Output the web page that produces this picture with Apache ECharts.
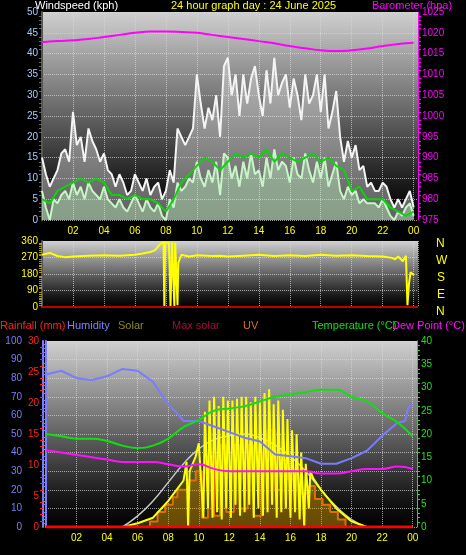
<!DOCTYPE html>
<html>
<head>
<meta charset="utf-8">
<script src="https://cdn.jsdelivr.net/npm/echarts@6/dist/echarts.min.js"></script>
<style>
  html, body { margin: 0; padding: 0; background: #000; }
  #chart { width: 466px; height: 555px; }
</style>
</head>
<body>
<div id="chart"></div>
<script>
// 15 minute steps 0..24h
const windHours = [];
for (let i = 0; i <= 96; i++) windHours.push(i / 4);
const gust = [15,11,8,10, 12,16,17,14, 26,18,20,14, 22,19,17,14, 16,12,11,8, 11,9,6,7,
  11,9,7,10, 6,8,9,5, 7,12,9,22, 20,18,20,22, 35,28,22,27, 24,30,20,37, 39,30,35,25,
  35,28,34,37, 30,25,36,28, 39,30,33,35, 27,34,30,24, 35,28,30,35, 26,35,22,26,
  31,20,14,19, 15,18,12,13, 8,9,7,7, 9,8,5,3, 5,3,5,7, 3];
const windAvg = [7,3,0,5, 4,6,7,5, 9,6,8,5, 9,7,6,5, 8,5,4,3, 5,3,2,4, 6,4,2,5, 3,2,4,1,
  0,5,3,9, 7,8,10,9, 14,10,8,12, 9,14,6,16, 15,10,13,8, 14,10,16,11, 12,8,15,10,
  17,12,14,13, 9,15,11,10, 16,12,9,14, 10,15,8,11, 14,7,5,8, 6,7,4,5, 4,4,4,3,
  5,3,1,0, 2,1,3,4, 1];
// half-hour steps
const avgHours = [];
for (let i = 0; i <= 48; i++) avgHours.push(i / 2);
const windTen = [5,4,7,8,9,10,9,10,9,6,6,5,6,5,5,4,2,5,9,11,13,15,14,12,14,16,15,16,15,17,
  14,16,15,14,15,16,14,15,13,12,7,8,5,5,5,3,2,1,2];
// hourly
const hours = [0,1,2,3,4,5,6,7,8,9,10,11,12,13,14,15,16,17,18,19,20,21,22,23,24];
const baro = [1017.7,1018,1018.2,1018.5,1019,1019.5,1020,1020.3,1020.3,1020.2,1020,1019.5,
  1019,1018.5,1018,1017.5,1016.8,1016.3,1015.8,1015.6,1015.8,1016.2,1016.8,1017.3,1017.6];
const dirHours = [0,0.5,1,1.5,2,3,4,5,6,6.5,7,7.3,7.6,7.85,7.9,7.95,8.0,8.2,8.3,8.4,8.45,8.55,
  8.6,8.7,8.75,8.8,9,9.5,10,11,11.5,12,13,14,15,16,17,18,19,20,21,22,22.6,22.8,23,23.3,
  23.5,23.6,23.7,23.8,24];
const dirValues = [285,295,278,272,275,280,282,280,285,292,300,310,340,355,0,350,345,350,0,355,350,
  0,350,355,10,240,285,275,282,278,280,275,280,285,278,282,278,285,280,282,278,275,268,260,
  275,250,280,10,130,190,175];
const tempValues = [20,19.5,19,19,18.5,17.5,17,17.5,19,21.5,23,25,25.5,26,27,28,28.5,29,29.5,29.5,28,27,24.5,22.5,19.5];
const dewValues = [16.5,16,15.5,15,14.5,14,14,14,13.5,13,13.5,12.5,12,12,12,12,12,12,11.5,11.5,12,12.5,12.5,13,12.5];
const humHours = [0,1,2,3,4,5,6,7,8,8.7,9,10,11,12,13,14,15,16,17,18,19,20,21,22,23,23.5,23.7,24];
const humValues = [82,84,80,79,81,85,84,78,66,60,57,57,54,51,48,46,39,38,37,34,34,37,41,49,56,57,64,66];
const rainValues = [0,0,0,0,0,0,0,0,0,0,0,0,0,0,0,0,0,0,0,0,0,0,0,0,0];
const maxSolarHours = [5,6,7,8,9,10,11,12,13,14,15,16,17,18,19,20,21];
const maxSolar = [0,6,14,24,34,42,47,49,50,48,44,38,30,20,11,4,0];
const solarHours = [0,5,6,7,8,9,9.2,9.3,9.4,9.8,10,10.3,10.4,10.6,10.7,10.9,11,11.2,11.3,11.5,11.6,
  11.8,11.9,12.1,12.2,12.4,12.5,12.7,12.8,13,13.1,13.3,13.4,13.6,13.7,13.9,14,14.2,14.3,14.5,
  14.6,14.8,14.9,15.1,15.2,15.4,15.5,15.7,15.8,16,16.1,16.3,16.4,16.6,16.7,16.9,17,17.2,17.3,
  17.5,18,19,20,21,24];
const solarValues = [0,0,2,5,14,25,35,0,30,38,45,5,62,10,68,5,70,8,65,4,70,10,68,5,68,12,69,6,70,8,
  70,12,67,5,70,10,68,6,72,8,74,12,66,5,68,8,63,10,58,5,52,8,50,4,40,0,34,10,30,26,20,10,3,0,0];
const uvHours = [0,6.8,7.3,7.8,8.3,8.6,9.3,9.8,10.2,10.6,11,11.4,11.8,12.3,12.7,13.2,13.6,14.1,14.5,
  15,15.4,15.8,16.3,16.7,17.2,17.6,18.1,18.6,19.1,19.6,24];
const uvValues = [0,3,8,12,16,20,25,30,5,38,6,44,8,44,10,44,6,40,52,20,36,26,30,18,22,15,12,8,4,0,0];

const font = 'Liberation Sans';
const bg = { type: 'linear', x: 0, y: 0, x2: 0, y2: 1,
  colorStops: [{ offset: 0, color: '#d0d0d0' }, { offset: 0.85, color: '#151515' }, { offset: 1, color: '#000000' }] };
const pairs = (xs, ys) => xs.map((x, i) => [x, ys[i]]);
const gridLine = { show: true, lineStyle: { color: '#d8d8d8', type: 'dotted', width: 1, opacity: 0.7 } };
const xAxisBase = (gi, showLabel) => ({
  type: 'value', gridIndex: gi, min: 0, max: 24.28, interval: 2,
  axisLine: { show: false }, axisTick: { show: false }, splitLine: gridLine,
  axisLabel: { show: showLabel, color: '#ffff00', fontFamily: font, fontSize: 10, margin: 6,
    formatter: v => v === 0 ? '' : String(v % 24).padStart(2, '0') }
});
const yAxisBase = (gi, pos, min, max, interval, color, extra) => Object.assign({
  type: 'value', gridIndex: gi, position: pos, min: min, max: max, interval: interval,
  axisLine: { show: true, lineStyle: { color: '#555', width: 2 } },
  axisTick: { show: false },
  minorTick: { show: true, splitNumber: 5, length: 3, lineStyle: { color: '#666' } },
  splitLine: { show: false },
  axisLabel: { color: color, fontFamily: font, fontSize: 10, margin: 4, formatter: v => String(v) }
}, extra || {});

const chart = echarts.init(document.getElementById('chart'));
chart.setOption({
  backgroundColor: '#000',
  animation: false,
  grid: [
    { left: 42, top: 12, width: 376, height: 208, show: true, backgroundColor: bg, borderWidth: 0 },
    { left: 42, top: 241, width: 376, height: 66, show: true, backgroundColor: bg, borderWidth: 0 },
    { left: 46, top: 341, width: 371, height: 186, show: true, backgroundColor: bg, borderWidth: 0 }
  ],
  xAxis: [xAxisBase(0, true), xAxisBase(1, false), xAxisBase(2, true)],
  yAxis: [
    yAxisBase(0, 'left', 0, 50, 5, '#a8c8ff', { splitLine: gridLine }),
    yAxisBase(0, 'right', 975, 1025, 5, '#ff00ff', { axisLine: { show: true, lineStyle: { color: '#ff00ff' } },
      minorTick: { show: true, splitNumber: 5, length: 3, lineStyle: { color: '#ff00ff' } } }),
    yAxisBase(1, 'left', 0, 360, 90, '#ffff00', { splitLine: gridLine,
      minorTick: { show: true, splitNumber: 9, length: 3, lineStyle: { color: '#aa9900' } } }),
    yAxisBase(2, 'left', 0, 100, 10, '#7b7bff', { offset: 20, splitLine: gridLine,
      axisLine: { show: true, lineStyle: { color: '#7b7bff', width: 2 } },
      minorTick: { show: true, splitNumber: 5, length: 3, lineStyle: { color: '#7b7bff' } } }),
    yAxisBase(2, 'left', 0, 30, 5, '#ff2020', { offset: 3,
      axisLine: { show: true, lineStyle: { color: '#7b7bff', width: 2 } },
      minorTick: { show: true, splitNumber: 5, length: 3, lineStyle: { color: '#ff2020' } } }),
    yAxisBase(2, 'right', 0, 40, 5, '#20e020', {
      axisLine: { show: true, lineStyle: { color: '#20e020' } },
      minorTick: { show: true, splitNumber: 5, length: 3, lineStyle: { color: '#20e020' } } }),
    { type: 'value', gridIndex: 2, min: 0, max: 100, show: false }
  ],
  series: [
    { type: 'line', xAxisIndex: 0, yAxisIndex: 0, data: pairs(windHours, gust),
      symbol: 'none', lineStyle: { color: '#f4f4f4', width: 2 }, areaStyle: { color: 'rgba(230,230,230,0.6)' } },
    { type: 'line', xAxisIndex: 0, yAxisIndex: 0, data: pairs(windHours, windAvg),
      symbol: 'none', lineStyle: { color: '#c8f5c8', width: 2 }, areaStyle: { color: 'rgba(190,240,190,0.6)' } },
    { type: 'line', xAxisIndex: 0, yAxisIndex: 0, data: pairs(avgHours, windTen),
      symbol: 'none', lineStyle: { color: '#10d010', width: 2 } },
    { type: 'line', xAxisIndex: 0, yAxisIndex: 1, data: pairs(hours, baro), smooth: true,
      symbol: 'none', lineStyle: { color: '#ff00ff', width: 2 } },
    { type: 'line', xAxisIndex: 1, yAxisIndex: 2, data: pairs(dirHours, dirValues),
      symbol: 'none', lineStyle: { color: '#ffff00', width: 2 } },
    { type: 'line', xAxisIndex: 1, yAxisIndex: 2, data: [[0, 0], [24.28, 0]],
      symbol: 'none', lineStyle: { color: '#c00000', width: 2 } },
    { type: 'line', xAxisIndex: 2, yAxisIndex: 4, data: pairs(hours, rainValues),
      symbol: 'none', lineStyle: { color: '#ff0000', width: 3 }, z: 5 },
    { type: 'line', xAxisIndex: 2, yAxisIndex: 6, data: pairs(uvHours, uvValues), step: 'end',
      symbol: 'none', lineStyle: { color: '#e07000', width: 2 }, areaStyle: { color: 'rgba(220,110,0,0.45)' } },
    { type: 'line', xAxisIndex: 2, yAxisIndex: 6, data: pairs(maxSolarHours, maxSolar), smooth: true,
      symbol: 'none', lineStyle: { color: '#c8c8c8', width: 1.5 } },
    { type: 'line', xAxisIndex: 2, yAxisIndex: 6, data: pairs(solarHours, solarValues),
      symbol: 'none', lineStyle: { color: '#ffff00', width: 2 }, areaStyle: { color: 'rgba(255,255,0,0.25)' } },
    { type: 'line', xAxisIndex: 2, yAxisIndex: 3, data: pairs(humHours, humValues),
      symbol: 'none', lineStyle: { color: '#7b7bff', width: 2 } },
    { type: 'line', xAxisIndex: 2, yAxisIndex: 5, data: pairs(hours, tempValues), smooth: true,
      symbol: 'none', lineStyle: { color: '#10e010', width: 2 } },
    { type: 'line', xAxisIndex: 2, yAxisIndex: 5, data: pairs(hours, dewValues), smooth: true,
      symbol: 'none', lineStyle: { color: '#ff10ff', width: 2 } }
  ],
  graphic: [
    { type: 'text', left: 35, top: 0, style: { text: 'Windspeed (kph)', fill: '#fff', font: '11px ' + font } },
    { type: 'text', left: 171, top: 0, style: { text: '24 hour graph day : 24 June 2025', fill: '#ffff00', font: '11px ' + font } },
    { type: 'text', left: 372, top: 0, style: { text: 'Barometer (hpa)', fill: '#ff00ff', font: '11px ' + font } },
    { type: 'text', left: 436, top: 238, style: { text: 'N', fill: '#ffff00', font: '12px ' + font } },
    { type: 'text', left: 436, top: 255, style: { text: 'W', fill: '#ffff00', font: '12px ' + font } },
    { type: 'text', left: 437, top: 272, style: { text: 'S', fill: '#ffff00', font: '12px ' + font } },
    { type: 'text', left: 437, top: 289, style: { text: 'E', fill: '#ffff00', font: '12px ' + font } },
    { type: 'text', left: 436, top: 306, style: { text: 'N', fill: '#ffff00', font: '12px ' + font } },
    { type: 'text', left: 0, top: 320, style: { text: 'Rainfall (mm)', fill: '#ff2020', font: '11px ' + font } },
    { type: 'text', left: 67, top: 320, style: { text: 'Humidity', fill: '#8080ff', font: '11px ' + font } },
    { type: 'text', left: 118, top: 320, style: { text: 'Solar', fill: '#8a8a20', font: '11px ' + font } },
    { type: 'text', left: 172, top: 320, style: { text: 'Max solar', fill: '#a01040', font: '11px ' + font } },
    { type: 'text', left: 243, top: 320, style: { text: 'UV', fill: '#e07000', font: '11px ' + font } },
    { type: 'text', left: 312, top: 320, style: { text: 'Temperature (°C)', fill: '#10e010', font: '11px ' + font } },
    { type: 'text', left: 392, top: 320, style: { text: 'Dew Point (°C)', fill: '#ff10ff', font: '11px ' + font } }
  ]
});
</script>
</body>
</html>
